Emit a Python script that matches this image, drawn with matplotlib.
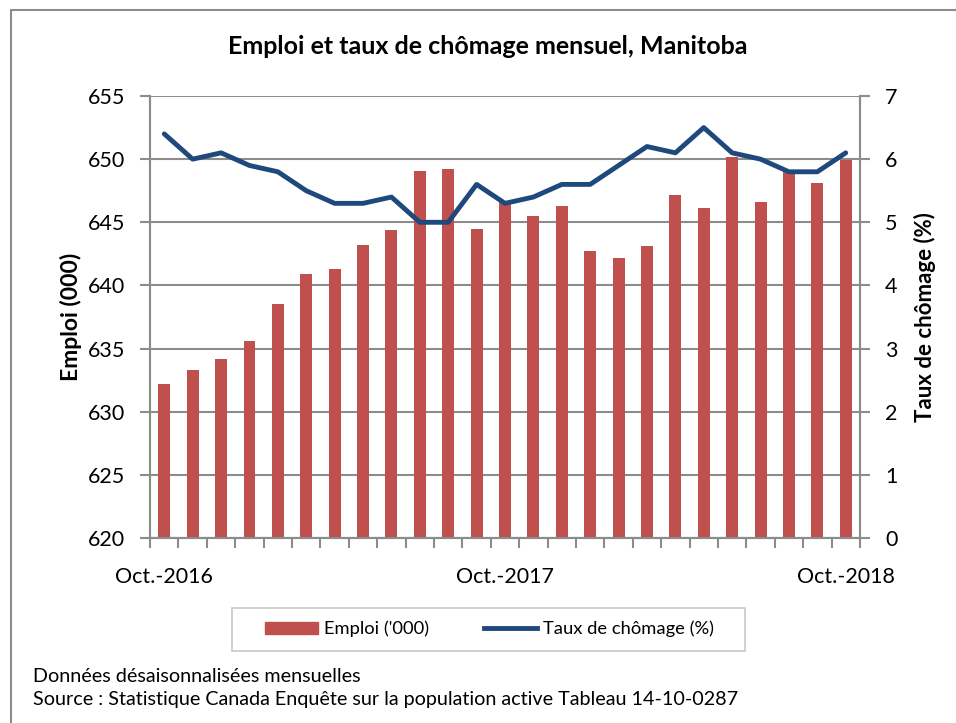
import matplotlib
matplotlib.use('Agg')
import matplotlib.pyplot as plt
import numpy as np
from matplotlib.patches import Rectangle

plt.rcParams['font.family'] = ['Lato', 'DejaVu Sans']

# monthly data, Oct 2016 - Oct 2018
months = ['Oct.-2016', 'Nov.-2016', 'Dec.-2016', 'Jan.-2017', 'Feb.-2017', 'Mar.-2017',
          'Apr.-2017', 'May-2017', 'Jun.-2017', 'Jul.-2017', 'Aug.-2017', 'Sep.-2017',
          'Oct.-2017', 'Nov.-2017', 'Dec.-2017', 'Jan.-2018', 'Feb.-2018', 'Mar.-2018',
          'Apr.-2018', 'May-2018', 'Jun.-2018', 'Jul.-2018', 'Aug.-2018', 'Sep.-2018',
          'Oct.-2018']
emploi = [632.2, 633.3, 634.2, 635.6, 638.5, 640.9, 641.3, 643.2, 644.4, 649.1,
          649.2, 644.5, 646.6, 645.5, 646.3, 642.7, 642.2, 643.1, 647.2, 646.1,
          650.2, 646.6, 649.0, 648.1, 649.9]
chomage = [6.4, 6.0, 6.1, 5.9, 5.8, 5.5, 5.3, 5.3, 5.4, 5.0, 5.0, 5.6, 5.3,
           5.4, 5.6, 5.6, 5.9, 6.2, 6.1, 6.5, 6.1, 6.0, 5.8, 5.8, 6.1]
shown_labels = {0: 'Oct.-2016', 12: 'Oct.-2017', 24: 'Oct.-2018'}

bar_color = '#c0504d'
line_color = '#1f497d'
grid_color = '#8c8c8c'

W, H = 956, 723
fig = plt.figure(figsize=(9.56, 7.23), dpi=100)
ax = fig.add_axes([0.157, 0.2559, 0.7425, 0.6113])
ax2 = ax.twinx()

x = np.arange(len(months))
ax.bar(x, emploi, width=0.42, color=bar_color, zorder=2)
ax.set_ylim(620, 655)
ax.set_yticks(np.arange(620, 656, 5))
ax.set_xlim(-0.5, len(months) - 0.5)
ax.yaxis.grid(True, color=grid_color, linewidth=1.5, zorder=0)
ax.set_axisbelow(True)

ax2.plot(x, chomage, color=line_color, linewidth=3.5, solid_capstyle='round',
         solid_joinstyle='round')
ax2.set_ylim(0, 7)
ax2.set_yticks(range(0, 8))

# category boundary ticks at bottom
ax.set_xticks(np.arange(-0.5, len(months), 1.0))
ax.set_xticklabels([])
ax.set_xticks(list(shown_labels.keys()), minor=True)
ax.set_xticklabels(list(shown_labels.values()), minor=True, fontsize=15.5)
ax.tick_params(axis='x', which='major', length=7, width=1.5, color=grid_color, direction='out')
ax.tick_params(axis='x', which='minor', length=0, pad=21)
ax.tick_params(axis='y', length=7, width=1.5, color=grid_color, labelsize=15.5, pad=11)
ax2.tick_params(axis='y', length=7, width=1.5, color=grid_color, labelsize=15.5, pad=11)

for a in (ax, ax2):
    a.spines['top'].set_visible(False)
    for s in ('left', 'right', 'bottom'):
        a.spines[s].set_color(grid_color)
        a.spines[s].set_linewidth(1.5)

ax.set_ylabel('Emploi (000)', fontsize=16.5, fontweight='bold', labelpad=4)
ax2.set_ylabel('Taux de chômage (%)', fontsize=16, fontweight='bold', labelpad=12)

fig.text(0.51, 0.935, 'Emploi et taux de chômage mensuel, Manitoba',
         ha='center', va='center', fontsize=18, fontweight='bold')

# legend (frame drawn separately)
handles = [Rectangle((0, 0), 1, 1, color=bar_color),
           plt.Line2D([0], [0], color=line_color, linewidth=3.5)]
leg = fig.legend(handles, ["Emploi ('000)", 'Taux de chômage (%)'], loc='center',
                 bbox_to_anchor=(0.512, 0.130), ncol=2, fontsize=13.2, frameon=False,
                 handlelength=2.9, handleheight=0.65, handletextpad=0.3,
                 columnspacing=3.0, borderpad=0, borderaxespad=0)
fig.patches.append(Rectangle((232 / W, 1 - 651 / H), (745 - 232) / W, 43 / H,
                             transform=fig.transFigure, fill=False,
                             edgecolor='#c8c8c8', linewidth=1.2))

fig.text(0.035, 0.064, 'Données désaisonnalisées mensuelles', fontsize=14.2, va='center')
fig.text(0.035, 0.032, 'Source : Statistique Canada Enquête sur la population active Tableau 14-10-0287',
         fontsize=14.2, va='center')

# outer chart frame
fig.patches.append(Rectangle((11 / W, -0.05), 1.1, 1 - 10 / H + 0.05,
                             transform=fig.transFigure, fill=False,
                             edgecolor=grid_color, linewidth=1.5))

fig.savefig('out.png', dpi=100)
